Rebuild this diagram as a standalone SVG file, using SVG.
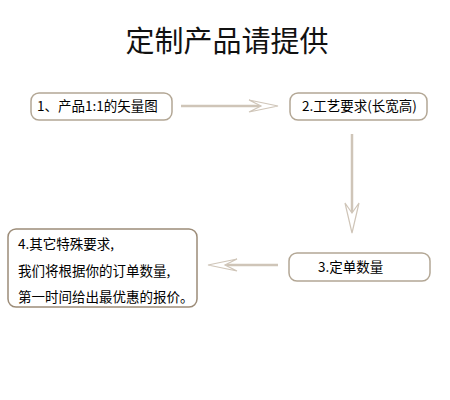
<svg xmlns="http://www.w3.org/2000/svg" width="450" height="400" viewBox="0 0 450 400">
<style>
.box{fill:#fff;stroke:#b3a795;stroke-width:1.5}
.box4{fill:#fff;stroke:#9c8c78;stroke-width:1.5}
.t{font-family:"Noto Sans CJK SC","Liberation Sans",sans-serif;font-size:13.5px;fill:#000}
.title{font-family:"Noto Sans CJK SC",sans-serif;font-size:29px;fill:#111}
.line{stroke:#cfc5b8;stroke-width:2.5;fill:none}
.head{stroke:#cfc5b8;stroke-width:1.2;fill:#fff;stroke-linejoin:miter}
</style>
<rect width="450" height="400" fill="#fff"/>
<text class="title" x="227" y="52" text-anchor="middle">定制产品请提供</text>
<g id="connectors">
<line class="line" x1="181" y1="106" x2="262" y2="106"/>
<polygon class="head" points="278,106 249,100 261,106 249,112"/>
<line class="line" x1="352" y1="134" x2="352" y2="212"/>
<polygon class="head" points="352,233 345,203 352,213 359,203"/>
<line class="line" x1="278" y1="265" x2="224" y2="265"/>
<polygon class="head" points="208,265 237,259 225,265 237,271"/>
</g>
<g id="node1">
<rect class="box" x="31" y="93" width="141" height="27" rx="8"/>
<text class="t" x="37" y="111">1、产品1:1的矢量图</text>
</g>
<g id="node2">
<rect class="box" x="290" y="93" width="137" height="27" rx="8"/>
<text class="t" x="302" y="111">2.工艺要求(长宽高)</text>
</g>
<g id="node3">
<rect class="box" x="289" y="253" width="141" height="28" rx="8"/>
<text class="t" x="318" y="272">3.定单数量</text>
</g>
<g id="node4">
<rect class="box4" x="8" y="229" width="189" height="78" rx="8"/>
<text class="t" x="18" y="249">4.其它特殊要求,</text>
<text class="t" x="18" y="276">我们将根据你的订单数量,</text>
<text class="t" x="18" y="302">第一时间给出最优惠的报价。</text>
</g>
</svg>
